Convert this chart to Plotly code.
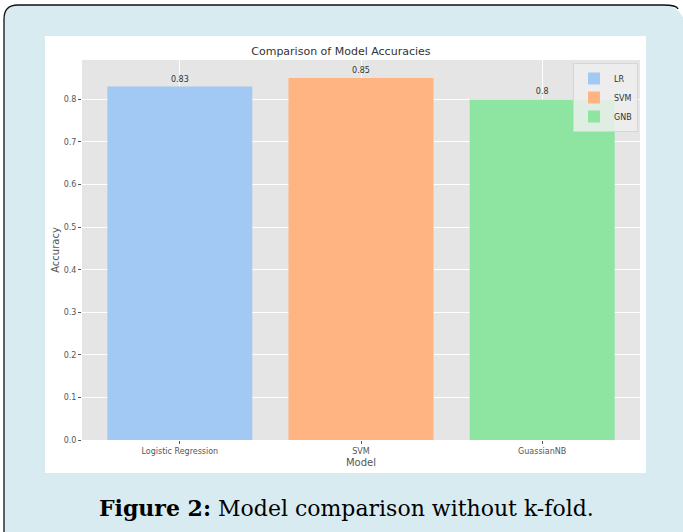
import plotly.graph_objects as go

# ---- data ----
models = ["Logistic Regression", "SVM", "GuassianNB"]
legend_names = ["LR", "SVM", "GNB"]
accuracies = [0.83, 0.85, 0.80]
value_labels = ["0.83", "0.85", "0.8"]
colors = ["#a1c9f4", "#ffb482", "#8de5a1"]
y_ticks = [0.0, 0.1, 0.2, 0.3, 0.4, 0.5, 0.6, 0.7, 0.8]

W, H = 683, 532
L, R, T, B = 82, 640, 60, 440  # plot area in pixels


def px(x):
    return (x - L) / (R - L)


def py(y):
    return (B - y) / (B - T)


fig = go.Figure()
for m, n, v, lab, c in zip(models, legend_names, accuracies, value_labels, colors):
    fig.add_trace(go.Bar(
        x=[m], y=[v], name=n, marker=dict(color=c, line=dict(width=0)),
        width=0.8, text=[lab], textposition="outside",
        textfont=dict(size=8, color="#333333", family="DejaVu Sans"),
        cliponaxis=False, hoverinfo="skip",
    ))

r = 14
fill_path = (f"M {px(4)},{py(531)} L {px(4)},{py(5 + r)} "
             f"Q {px(4)},{py(5)} {px(4 + r)},{py(5)} "
             f"L {px(677 - r)},{py(5)} Q {px(677)},{py(5)} {px(684)},{py(5 + r)} "
             f"L {px(690)},{py(545)} L {px(4)},{py(545)} Z")
shapes = [
    dict(type="path", path=fill_path, xref="paper", yref="paper",
         fillcolor="#d8ebf0", line=dict(width=0), layer="below"),
    dict(type="path",
         path=(f"M {px(4)},{py(545)} L {px(4)},{py(5 + r)} "
               f"Q {px(4)},{py(5)} {px(4 + r)},{py(5)} "
               f"L {px(677 - r)},{py(5)} Q {px(677)},{py(5)} {px(678)},{py(9)}"),
         xref="paper", yref="paper", line=dict(color="#111111", width=1.3),
         layer="below"),
    dict(type="rect", xref="paper", yref="paper",
         x0=px(45), x1=px(646), y0=py(473), y1=py(36),
         fillcolor="white", line=dict(width=0), layer="below"),
    dict(type="rect", xref="paper", yref="paper",
         x0=0, x1=1, y0=0, y1=1,
         fillcolor="#e5e5e5", line=dict(width=0), layer="below"),
]

fig.update_layout(
    width=W, height=H,
    margin=dict(l=L, r=W - R, t=T, b=H - B),
    paper_bgcolor="white", plot_bgcolor="#e5e5e5",
    barmode="overlay",
    shapes=shapes,
    font=dict(family="DejaVu Sans", color="#555555", size=8),
    title=dict(text="Comparison of Model Accuracies", x=px(360.5), xanchor="center",
               y=1 - 51 / H, yanchor="middle",
               font=dict(size=11, color="#333333", family="DejaVu Sans")),
    xaxis=dict(range=[-0.54, 2.54], showgrid=True, gridcolor="white", gridwidth=1,
               ticks="outside", ticklen=3, tickcolor="#555555",
               tickfont=dict(size=8, color="#555555"),
               title=dict(text="Model", font=dict(size=10, color="#555555"), standoff=4),
               zeroline=False, showline=False),
    yaxis=dict(range=[0, 0.8925], tickvals=y_ticks, tickformat=".1f",
               showgrid=True, gridcolor="white", gridwidth=1,
               ticks="outside", ticklen=3, tickcolor="#555555",
               tickfont=dict(size=8, color="#555555"),
               title=dict(text="Accuracy", font=dict(size=10, color="#555555"), standoff=2),
               zeroline=False, showline=False),
    legend=dict(x=px(638), y=py(63), xanchor="right", yanchor="top",
                bgcolor="rgba(238,238,238,0.85)", bordercolor="#d6d6d6", borderwidth=1,
                font=dict(size=8, color="#333333"), itemwidth=30,
                tracegroupgap=0),
    showlegend=True,
    annotations=[dict(
        text="<b>Figure 2:</b> Model comparison without k-fold.",
        xref="paper", yref="paper", x=px(346), y=py(508),
        xanchor="center", yanchor="middle", showarrow=False,
        font=dict(family="DejaVu Serif", size=22, color="black"))],
)

fig.write_html("out.html", config={"displayModeBar": False},
               post_script="document.body.style.margin='0';document.body.style.overflow='hidden';")
